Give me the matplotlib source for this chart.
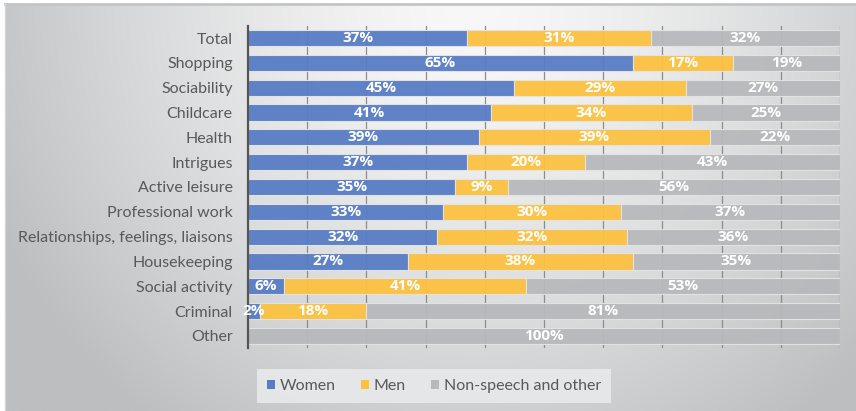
import numpy as np
import matplotlib
matplotlib.use('Agg')
import matplotlib.pyplot as plt
from matplotlib.patches import Patch

# Share of speech by topic (percent)
categories = ['Total', 'Shopping', 'Sociability', 'Childcare', 'Health', 'Intrigues',
              'Active leisure', 'Professional work', 'Relationships, feelings, liaisons',
              'Housekeeping', 'Social activity', 'Criminal', 'Other']
women = [37, 65, 45, 41, 39, 37, 35, 33, 32, 27, 6, 2, 0]
men = [31, 17, 29, 34, 39, 20, 9, 30, 32, 38, 41, 18, 0]
nonspeech = [32, 19, 27, 25, 22, 43, 56, 37, 36, 35, 53, 81, 100]
series_names = ['Women', 'Men', 'Non-speech and other']
colors = ['#587cc4', '#fcc140', '#b8b9bc']

plt.rcParams['font.family'] = ['Lato', 'DejaVu Sans']

W, H = 856, 411
fig = plt.figure(figsize=(W / 100, H / 100), dpi=100)
fig.patch.set_facecolor('white')

# shaded backdrop: light near the top centre, greyer toward the edges
bg = fig.add_axes([5 / W, 0, (W - 5) / W, (H - 5) / H])
bg.set_axis_off()
gx, gy = np.meshgrid(np.linspace(0, 1, 400), np.linspace(0, 1, 200))
d = np.sqrt(((gx - 0.55) / 0.62) ** 2 + ((gy - 0.0) / 1.3) ** 2)
d = np.clip(d, 0, 1) ** 1.4
light = np.array([248, 248, 248]) / 255
dark = np.array([188, 190, 192]) / 255
img = light[None, None, :] * (1 - d[..., None]) + dark[None, None, :] * d[..., None]
bg.imshow(img, aspect='auto', extent=[0, 1, 1, 0])
bg.set_xlim(0, 1)
bg.set_ylim(1, 0)
fig.add_artist(plt.Line2D([5 / W, 1], [1 - 4 / H, 1 - 4 / H], color='#c4c4c4', lw=2,
                          transform=fig.transFigure))
fig.add_artist(plt.Line2D([5 / W, 5 / W], [0, 1 - 4 / H], color='#d6d6d6', lw=1,
                          transform=fig.transFigure))

ax = fig.add_axes([248 / W, 1 - 348.4 / H, 592 / W, (348.4 - 25.6) / H])
ax.set_facecolor('none')

y = np.arange(len(categories))
left = np.zeros(len(categories))
for vals, col in zip([women, men, nonspeech], colors):
    vals = np.array(vals, dtype=float)
    ax.barh(y, vals, left=left, height=0.65, color=col, alpha=0.95,
            edgecolor='#e4e4e4', linewidth=0.8, zorder=2)
    for yi, l, v in zip(y, left, vals):
        if v > 0:
            ax.text(min(l + v / 2, l + (100 - l) / 2), yi, '%d%%' % v, ha='center', va='center',
                    color='white', fontsize=11, fontweight='bold', family='Open Sans',
                    zorder=8, clip_on=False)
    left += vals

ax.set_xlim(0, 100)
ax.set_ylim(len(categories) - 0.5, -0.5)
for gxv in range(10, 101, 10):
    ax.axvline(gxv, color='#8c8c8c', lw=0.9, zorder=1)

ax.set_yticks(y)
ax.set_yticklabels(categories, fontsize=11.5, color='#595959')
ax.tick_params(axis='y', length=0, pad=11)
ax.set_xticks([])
for s in ['top', 'right', 'bottom']:
    ax.spines[s].set_visible(False)
ax.spines['left'].set_color('#555555')
ax.spines['left'].set_linewidth(1.6)
ax.spines['left'].set_zorder(5)

handles = [Patch(facecolor=c, edgecolor='none') for c in colors]
leg = fig.legend(handles, series_names, loc='center', bbox_to_anchor=(434 / W, 1 - 386 / H),
                 ncol=3, frameon=True, fancybox=False, fontsize=11.5, handlelength=0.5,
                 handleheight=0.5, handletextpad=0.3, columnspacing=1.6, borderpad=0.6)
leg.get_frame().set_facecolor('#e8e9ea')
leg.get_frame().set_edgecolor('none')
leg.get_frame().set_alpha(0.9)
for t in leg.get_texts():
    t.set_color('#595959')

fig.savefig('out.png', dpi=100)
